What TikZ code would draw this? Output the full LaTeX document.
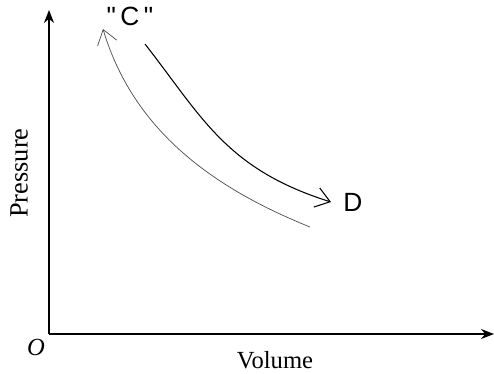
\documentclass[tikz,border=0pt]{standalone}
\usepackage{fontspec}
\setmainfont{Liberation Serif}
\newfontfamily\handfont{Liberation Sans}
\usetikzlibrary{arrows.meta}

\begin{document}
\begin{tikzpicture}[
    x=0.02cm, y=-0.02cm,
    >={Stealth[length=2.6mm, width=2mm]},
    axis/.style={line width=1pt, ->},
    process/.style={semithick, -{Straight Barb[length=2.8mm, width=4mm]}},
    axislabel/.style={font=\fontsize{14}{16}\selectfont},
    statelabel/.style={font=\handfont\fontsize{15}{17}\selectfont},
]
    \useasboundingbox (0,0) rectangle (494,373);

    % Axes
    \coordinate (O) at (49,334);
    \coordinate (ytop) at (49,10);
    \coordinate (xend) at (494,334);
    \draw[axis] (O) -- (ytop);
    \draw[axis] (O) -- (xend);
    \node[font=\itshape\fontsize{14}{16}\selectfont] (origin) at (36,347) {O};
    \node[axislabel] (vol) at (275,360) {Volume};
    \node[axislabel, font=\fontsize{15}{17}\selectfont, rotate=90] (pres) at (19,173) {Pressure};

    % States
    \node[statelabel] (C) at (130,16) {"\,C\,"};
    \node[statelabel] (D) at (353,202) {D};

    % Processes
    \coordinate (c1) at (145,44);
    \coordinate (d1) at (331,202);
    \coordinate (d2) at (310,227);
    \coordinate (c2) at (103,29);
    \draw[process] (c1) .. controls (202,117) and (226,169) .. (d1);
    \draw[process, thin, black!70] (d2) .. controls (221,191) and (135,136) .. (c2);
\end{tikzpicture}
\end{document}
